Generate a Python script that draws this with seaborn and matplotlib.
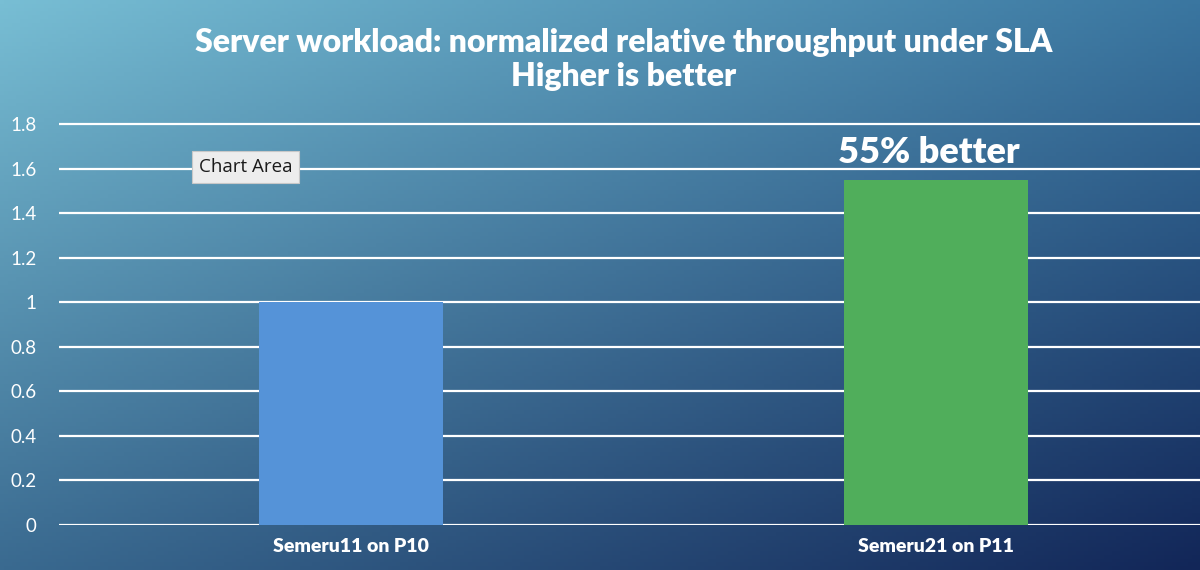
import numpy as np
import pandas as pd
import matplotlib
matplotlib.use("Agg")
import matplotlib.pyplot as plt
import seaborn as sns

# -----------------------------
# Data
# -----------------------------
categories = ["Semeru11 on P10", "Semeru21 on P11"]
throughput = [1.0, 1.55]
bar_colors = ["#5593D8", "#50AE5B"]
y_ticks = [0, 0.2, 0.4, 0.6, 0.8, 1, 1.2, 1.4, 1.6, 1.8]
y_tick_labels = ["0", "0.2", "0.4", "0.6", "0.8", "1", "1.2", "1.4", "1.6", "1.8"]
note = "55% better"

df = pd.DataFrame({"config": categories, "throughput": throughput})

sns.set_theme(style="white")
plt.rcParams["font.family"] = ["Lato", "DejaVu Sans"]

fig = plt.figure(figsize=(12, 5.7), dpi=100)

# -----------------------------
# Gradient background
# -----------------------------
bg = fig.add_axes([0, 0, 1, 1])
bg.set_axis_off()
tl = np.array([120, 190, 212]) / 255
tr = np.array([58, 118, 160]) / 255
bl = np.array([58, 106, 144]) / 255
br = np.array([18, 38, 88]) / 255
u = np.linspace(0, 1, 300)[None, :, None]
v = np.linspace(0, 1, 150)[:, None, None]
grad = (1 - v) * ((1 - u) * tl + u * tr) + v * ((1 - u) * bl + u * br)
bg.imshow(grad, aspect="auto", extent=[0, 1, 0, 1], origin="upper")
bg.set_xlim(0, 1)
bg.set_ylim(0, 1)

# -----------------------------
# Bar chart
# -----------------------------
px = 222.8
ax = fig.add_axes([58.5 / 1200, 45 / 570, 1170 / 1200, 1.82 * px / 570])
ax.patch.set_alpha(0)

sns.barplot(data=df, x="config", y="throughput", hue="config",
            palette=bar_colors, width=0.313, saturation=1, linewidth=0,
            legend=False, ax=ax, zorder=3)

ax.set_ylim(0, 1.82)
ax.set_yticks(y_ticks)
ax.set_yticklabels(y_tick_labels)
ax.grid(axis="y", color="white", linewidth=1.6, zorder=0)
ax.set_axisbelow(True)
for s in ax.spines.values():
    s.set_visible(False)
ax.set_xlabel("")
ax.set_ylabel("")
ax.tick_params(axis="y", colors="white", labelsize=13.5, length=0, pad=16)
ax.tick_params(axis="x", colors="white", length=0, pad=9)
for lbl in ax.get_xticklabels():
    lbl.set_fontweight("heavy")
    lbl.set_fontsize(14)

ax.text(1 - 0.012, throughput[1] + 0.05, note, ha="center", va="bottom",
        color="white", fontsize=26, fontweight="heavy", zorder=5)

# -----------------------------
# Title
# -----------------------------
fig.text(0.52, 0.926, "Server workload: normalized relative throughput under SLA",
         ha="center", va="center", color="white", fontsize=23, fontweight="heavy")
fig.text(0.52, 0.866, "Higher is better", ha="center", va="center",
         color="white", fontsize=23, fontweight="heavy")

# tooltip box
fig.text(199 / 1200, 1 - 167 / 570, "Chart Area", ha="left", va="center",
         color="#1a1a1a", fontsize=13.5, family=["Open Sans", "DejaVu Sans"],
         bbox=dict(boxstyle="square,pad=0.35", facecolor="#EDEDED",
                   edgecolor="#C8C8C8", linewidth=0.8))

fig.savefig("out.png", dpi=100)
